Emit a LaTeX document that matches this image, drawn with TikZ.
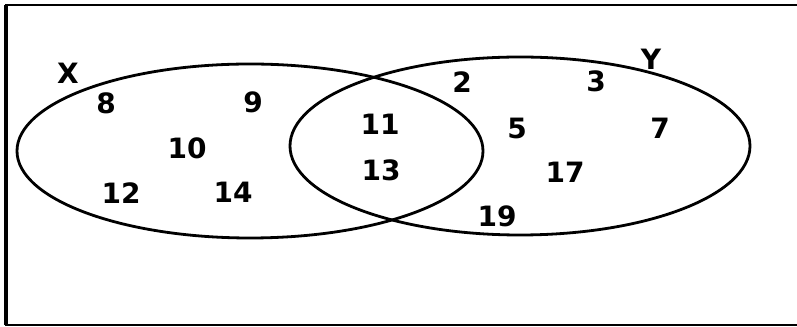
\documentclass[tikz,border=0pt]{standalone}
\usepackage{fontspec}
\setmainfont{DejaVu Sans}
\usepackage{xcolor}
\usetikzlibrary{positioning}

\begin{document}
\begin{tikzpicture}[
  x=0.75pt,y=-0.75pt,
  frameline/.style={draw=black,line width=1.5pt},
  setline/.style={draw=black,line width=2.1pt},
  elem/.style={font=\bfseries\fontsize{21}{25}\selectfont,inner sep=0pt,anchor=center},
  setlabel/.style={elem}
]
\useasboundingbox (0,0) rectangle (797,327);
% frame, cut off on the right
\draw[frameline] (797,5) -- (6,5) -- (6,325) -- (797,325);
\draw[frameline,line width=2.6pt] (6,5) -- (6,325);
% the two sets
\draw[setline] (250,151) ellipse [x radius=174.75pt,y radius=65.25pt];
\draw[setline] (520,146) ellipse [x radius=172.5pt,y radius=66.75pt];
\node[setlabel] (setX) at (68,73) {X};
\node[setlabel] (setY) at (651,59) {Y};
% only in X
\node[elem] (e8) at (106,103) {8};
\node[elem] (e9) at (253,102) {9};
\node[elem] (e10) at (187,148) {10};
\node[elem] (e12) at (121,193) {12};
\node[elem] (e14) at (233,192) {14};
% in both
\node[elem] (e11) at (380,124) {11};
\node[elem] (e13) at (381,170) {13};
% only in Y
\node[elem] (e2) at (462,82) {2};
\node[elem] (e3) at (596,81) {3};
\node[elem] (e5) at (517,128) {5};
\node[elem] (e7) at (660,128) {7};
\node[elem] (e17) at (565,172) {17};
\node[elem] (e19) at (497,216) {19};
\end{tikzpicture}
\end{document}
